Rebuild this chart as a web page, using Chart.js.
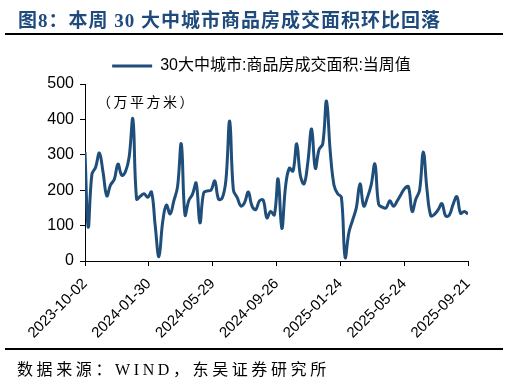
<!DOCTYPE html>
<html><head><meta charset="utf-8">
<script src="https://cdn.jsdelivr.net/npm/chart.js@4"></script>
<style>
html,body{margin:0;padding:0;background:#fff;}
#wrap{position:relative;width:510px;height:382px;overflow:hidden;background:#fff;}
canvas{position:absolute;left:0;top:0;}
#title{position:absolute;left:18px;top:5px;font:bold 19px "Liberation Serif","Noto Sans CJK SC",serif;color:#1f4a7c;letter-spacing:1px;white-space:nowrap;}
#tline{position:absolute;left:5px;top:33px;width:498px;height:2px;background:#000;}
#bline{position:absolute;left:5px;top:348px;width:498px;height:2px;background:#000;}
#src{position:absolute;left:17px;top:356px;font:16px "Liberation Serif","Noto Sans CJK SC",serif;letter-spacing:3.6px;white-space:nowrap;color:#000;}
#unit{position:absolute;left:97px;top:91px;font:14px "Noto Sans CJK SC",sans-serif;letter-spacing:2.5px;white-space:nowrap;color:#000;}
</style></head>
<body><div id="wrap"><canvas id="c" width="510" height="382"></canvas>
<div id="title">图8：本周 30 大中城市商品房成交面积环比回落</div>
<div id="tline"></div>
<div id="unit">（万平方米）</div>
<div id="bline"></div>
<div id="src">数据来源：WIND，东吴证券研究所</div>
</div>
<script>
const seriesName = '30大中城市:商品房成交面积:当周值';
const dates = [
'2023-10-02','2023-10-08','2023-10-15','2023-10-22','2023-10-29',
'2023-11-05','2023-11-12','2023-11-19','2023-11-26',
'2023-12-03','2023-12-10','2023-12-17','2023-12-24','2023-12-31',
'2024-01-07','2024-01-14','2024-01-21','2024-01-28',
'2024-02-04','2024-02-11','2024-02-18','2024-02-25',
'2024-03-03','2024-03-10','2024-03-17','2024-03-24','2024-03-31',
'2024-04-07','2024-04-14','2024-04-21','2024-04-28',
'2024-05-05','2024-05-12','2024-05-19','2024-05-26',
'2024-06-02','2024-06-09','2024-06-16','2024-06-23','2024-06-30',
'2024-07-07','2024-07-14','2024-07-21','2024-07-28',
'2024-08-04','2024-08-11','2024-08-18','2024-08-25',
'2024-09-01','2024-09-08','2024-09-15','2024-09-22','2024-09-29',
'2024-10-06','2024-10-13','2024-10-20','2024-10-27',
'2024-11-03','2024-11-10','2024-11-17','2024-11-24',
'2024-12-01','2024-12-08','2024-12-15','2024-12-22','2024-12-29',
'2025-01-05','2025-01-12','2025-01-19','2025-01-26',
'2025-02-02','2025-02-09','2025-02-16','2025-02-23',
'2025-03-02','2025-03-09','2025-03-16','2025-03-23','2025-03-30',
'2025-04-06','2025-04-13','2025-04-20','2025-04-27',
'2025-05-04','2025-05-11','2025-05-18','2025-05-25',
'2025-06-01','2025-06-08','2025-06-15','2025-06-22','2025-06-29',
'2025-07-06','2025-07-13','2025-07-20','2025-07-27',
'2025-08-03','2025-08-10','2025-08-17','2025-08-24','2025-08-31',
'2025-09-07','2025-09-14','2025-09-21'
];
const values = [
308,96,245,265,305,250,184,215,230,274,
242,252,294,401,175,183,190,180,195,100,
12,110,158,133,170,210,331,130,170,188,
220,108,192,198,200,226,175,178,230,395,
200,180,155,165,195,155,145,170,172,122,
140,130,232,92,210,262,254,331,240,218,
280,373,262,315,331,452,310,215,190,180,
10,80,115,150,218,155,180,215,274,160,
152,150,170,155,170,188,205,210,140,175,
200,308,200,128,132,145,162,127,130,160,
182,135,140,133
];
const tickLabels = ['2023-10-02','2024-01-30','2024-05-29','2024-09-26','2025-01-24','2025-05-24','2025-09-21'];
const yTicks = [0,100,200,300,400,500];

const DAY = 86400000;
const t0 = Date.parse(tickLabels[0] + 'T00:00:00Z');
const toDay = s => Math.round((Date.parse(s + 'T00:00:00Z') - t0) / DAY);
const tickDays = tickLabels.map(toDay);
const points = dates.map((d, i) => ({x: toDay(d), y: values[i]}));
const lineColor = '#1f4e7a';
const fontFam = '"Liberation Sans", "Noto Sans CJK SC", sans-serif';

new Chart(document.getElementById('c'), {
  type: 'line',
  data: {datasets: [{
    label: seriesName, data: points, yAxisID: 'y',
    borderColor: lineColor, backgroundColor: lineColor,
    borderWidth: 3, pointRadius: 0, tension: 0.4, fill: false
  }]},
  options: {
    responsive: false, animation: false, devicePixelRatio: 1,
    layout: {padding: {left: 13, right: 0, top: 43, bottom: 0}},
    plugins: {
      legend: {display: true, position: 'top',
        labels: {boxWidth: 40, boxHeight: 3, padding: 15, color: '#000',
          font: {size: 16, family: fontFam},
          generateLabels(chart) {
            const items = Chart.defaults.plugins.legend.labels.generateLabels(chart);
            items.forEach(it => { it.lineWidth = 0; });
            return items;
          }}},
      tooltip: {enabled: false}
    },
    scales: {
      x: {type: 'linear', min: tickDays[0], max: tickDays[tickDays.length - 1],
        afterFit(s) { s.height = 121; },
        afterBuildTicks(s) { s.ticks = tickDays.map(v => ({value: v})); },
        ticks: {autoSkip: false, minRotation: 45, maxRotation: 45, color: '#000', padding: 9,
          font: {size: 15, family: fontFam},
          callback: (v) => tickLabels[tickDays.indexOf(v)] || ''},
        grid: {drawOnChartArea: false, drawTicks: true, tickLength: 5, color: '#000'},
        border: {display: true, color: '#000', width: 1}
      },
      y: {min: 0, max: 500, position: 'left',
        afterFit(s) { s.width = 72; },
        afterBuildTicks(s) { s.ticks = yTicks.map(v => ({value: v})); },
        ticks: {color: '#000', padding: 6, font: {size: 16, family: fontFam}},
        grid: {drawOnChartArea: false, drawTicks: true, tickLength: 5, color: '#000'},
        border: {display: true, color: '#000', width: 1}
      },
      yRight: {position: 'right', min: 0, max: 500, display: true,
        afterFit(s) { s.width = 42; },
        ticks: {display: false},
        grid: {display: false, drawTicks: false},
        border: {display: false}
      }
    }
  }
});
</script>
</body></html>
